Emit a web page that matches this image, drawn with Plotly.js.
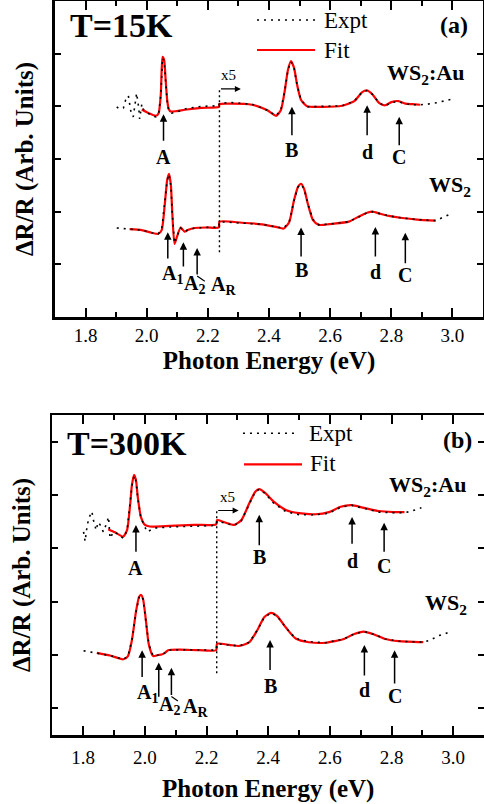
<!DOCTYPE html>
<html>
<head>
<meta charset="utf-8">
<script src="https://cdn.plot.ly/plotly-3.0.1.min.js"></script>
<style>
  html, body { margin: 0; padding: 0; background: #fff; }
  #chart { width: 484px; height: 804px; }
</style>
</head>
<body>
<div id="chart"></div>
<script>
// ---- T = 15 K : WS2:Au (upper spectrum) ----
const eAuFit15 = [1.984,2.007,2.030,2.039,2.046,2.049,2.052,2.057,2.062,2.067,2.072,2.079,2.098,2.131,2.180,2.236,2.238,2.279,2.344,2.393,2.423,2.439,2.452,2.462,2.472,2.482,2.492,2.505,2.525,2.574,2.639,2.679,2.705,2.721,2.738,2.761,2.780,2.800,2.823,2.846,2.869,2.895];
const rAuFit15 = [3.94,3.87,3.82,3.87,4.22,4.69,4.94,4.88,4.50,4.12,3.95,3.90,3.91,3.94,3.97,3.99,4.04,4.05,4.03,3.93,3.82,3.93,4.31,4.69,4.86,4.73,4.41,4.12,4.00,3.99,4.01,4.10,4.27,4.30,4.23,4.06,4.02,4.08,4.10,4.05,4.04,4.03];
const eAuExp15 = [1.902,1.911,1.924,1.931,1.940,1.948,1.956,1.964,1.967,1.974,1.977,1.984,1.990,2.000,2.016,2.030,2.039,2.046,2.049,2.052,2.057,2.062,2.067,2.072,2.082,2.098,2.131,2.180,2.230,2.236,2.238,2.279,2.344,2.393,2.423,2.439,2.452,2.462,2.472,2.482,2.492,2.505,2.525,2.574,2.639,2.679,2.705,2.721,2.738,2.761,2.780,2.800,2.823,2.846,2.869,2.895,2.918,2.951,2.984,3.007];
const rAuExp15 = [3.99,3.95,3.97,4.12,4.20,3.91,3.80,4.12,4.25,3.97,3.76,4.04,3.93,3.89,3.82,3.80,3.85,4.20,4.67,4.92,4.86,4.48,4.10,3.92,3.87,3.89,3.96,4.00,4.01,4.01,4.06,4.07,4.04,3.93,3.82,3.93,4.31,4.69,4.85,4.73,4.40,4.12,3.99,4.00,4.01,4.10,4.27,4.30,4.23,4.06,4.01,4.07,4.09,4.05,4.03,4.03,4.04,4.07,4.12,4.15];

// ---- T = 15 K : WS2 (lower spectrum) ----
const eWsFit15 = [1.944,1.984,2.016,2.038,2.049,2.059,2.067,2.073,2.079,2.084,2.091,2.100,2.111,2.124,2.134,2.157,2.197,2.236,2.238,2.311,2.377,2.423,2.448,2.466,2.482,2.495,2.505,2.515,2.528,2.544,2.563,2.607,2.661,2.698,2.721,2.738,2.764,2.792,2.836,2.885,2.945];
const rWsFit15 = [1.67,1.65,1.60,1.58,1.65,2.13,2.60,2.72,2.51,1.94,1.39,1.54,1.70,1.62,1.65,1.69,1.70,1.70,1.81,1.79,1.76,1.71,1.68,1.80,2.22,2.47,2.53,2.43,2.13,1.84,1.75,1.77,1.81,1.92,1.98,2.00,1.96,1.92,1.88,1.85,1.83];
const eWsExp15 = [1.902,1.918,1.944,1.984,2.016,2.038,2.049,2.059,2.067,2.073,2.079,2.084,2.091,2.100,2.111,2.124,2.134,2.157,2.197,2.236,2.238,2.311,2.377,2.423,2.448,2.466,2.482,2.495,2.505,2.515,2.528,2.544,2.563,2.607,2.661,2.698,2.721,2.738,2.764,2.792,2.836,2.885,2.945,2.967,2.984,3.000];
const rWsExp15 = [1.69,1.68,1.67,1.65,1.60,1.58,1.66,2.12,2.59,2.71,2.50,1.95,1.40,1.55,1.69,1.62,1.65,1.69,1.70,1.71,1.81,1.79,1.76,1.71,1.69,1.80,2.21,2.47,2.52,2.43,2.13,1.85,1.75,1.77,1.81,1.91,1.98,2.00,1.96,1.92,1.88,1.85,1.83,1.88,1.93,1.97];

// ---- T = 300 K : WS2:Au (upper spectrum) ----
const eAuFit300 = [1.881,1.903,1.929,1.942,1.952,1.958,1.965,1.971,1.977,1.987,2.000,2.016,2.081,2.161,2.231,2.234,2.258,2.290,2.313,2.339,2.358,2.371,2.390,2.419,2.457,2.500,2.554,2.597,2.635,2.670,2.710,2.758,2.806,2.842];
const rAuFit300 = [3.86,3.80,3.72,3.84,4.31,4.69,4.88,4.78,4.46,4.09,3.94,3.91,3.92,3.94,3.95,4.03,3.99,3.94,4.03,4.35,4.56,4.61,4.54,4.37,4.22,4.16,4.14,4.18,4.28,4.31,4.26,4.20,4.18,4.18];
const eAuExp300 = [1.801,1.806,1.813,1.820,1.828,1.833,1.842,1.848,1.855,1.865,1.876,1.882,1.887,1.898,1.913,1.929,1.942,1.952,1.958,1.965,1.971,1.977,1.987,2.007,2.032,2.081,2.161,2.231,2.234,2.258,2.290,2.313,2.339,2.358,2.371,2.390,2.419,2.457,2.500,2.554,2.597,2.635,2.670,2.710,2.758,2.806,2.842,2.861,2.881,2.897];
const rAuExp300 = [3.81,3.63,3.94,4.09,4.19,4.03,3.84,3.99,3.94,3.81,3.97,4.09,3.69,3.81,3.77,3.69,3.83,4.29,4.67,4.86,4.76,4.44,4.07,3.81,3.88,3.90,3.92,3.93,4.01,3.97,3.93,4.02,4.33,4.56,4.61,4.53,4.34,4.19,4.13,4.13,4.16,4.27,4.31,4.25,4.18,4.17,4.17,4.19,4.23,4.26];

// ---- T = 300 K : WS2 (lower spectrum) ----
const eWsFit300 = [1.844,1.887,1.930,1.945,1.958,1.971,1.981,1.987,1.994,2.003,2.013,2.027,2.042,2.054,2.065,2.075,2.113,2.177,2.231,2.234,2.274,2.306,2.339,2.365,2.387,2.409,2.429,2.458,2.489,2.532,2.586,2.645,2.677,2.710,2.742,2.780,2.823,2.903];
const rWsFit300 = [1.54,1.49,1.42,1.48,1.78,2.31,2.59,2.63,2.55,2.16,1.69,1.48,1.50,1.51,1.54,1.59,1.60,1.59,1.59,1.71,1.69,1.67,1.74,1.97,2.21,2.29,2.23,2.01,1.81,1.74,1.73,1.80,1.89,1.94,1.89,1.80,1.76,1.74];
const eWsExp300 = [1.801,1.823,1.844,1.887,1.930,1.945,1.958,1.971,1.981,1.987,1.994,2.003,2.013,2.027,2.042,2.054,2.065,2.075,2.113,2.177,2.231,2.234,2.274,2.306,2.339,2.365,2.387,2.409,2.429,2.458,2.489,2.532,2.586,2.645,2.677,2.710,2.742,2.780,2.823,2.903,2.926,2.952,2.974,2.995];
const rWsExp300 = [1.58,1.56,1.54,1.49,1.42,1.48,1.78,2.30,2.58,2.62,2.55,2.16,1.69,1.48,1.50,1.51,1.54,1.59,1.60,1.59,1.59,1.71,1.69,1.67,1.74,1.97,2.20,2.29,2.23,2.01,1.81,1.75,1.73,1.80,1.89,1.94,1.89,1.80,1.76,1.74,1.78,1.86,1.90,1.95];

// Energy where the x5 magnification of the spectra starts
const scaleEdge15 = 2.238;
const scaleEdge300 = 2.233;

const serif = '"Liberation Serif", "Times New Roman", Times, serif';
const RED = '#ff0000';
const BLACK = '#000000';
const DOTS = '2px,5px';

function fitTrace(x, y, xa, ya) {
  return { x, y, xaxis: xa, yaxis: ya, type: 'scatter', mode: 'lines',
    line: { color: RED, width: 2.2, shape: 'spline', smoothing: 0.6 },
    showlegend: false, hoverinfo: 'skip' };
}
function exptTrace(x, y, xa, ya) {
  return { x, y, xaxis: xa, yaxis: ya, type: 'scatter', mode: 'lines',
    line: { color: BLACK, width: 1.6, dash: DOTS },
    showlegend: false, hoverinfo: 'skip' };
}

const traces = [
  fitTrace(eAuFit15, rAuFit15, 'x', 'y'),
  fitTrace(eWsFit15, rWsFit15, 'x', 'y'),
  exptTrace(eAuExp15, rAuExp15, 'x', 'y'),
  exptTrace(eWsExp15, rWsExp15, 'x', 'y'),
  fitTrace(eAuFit300, rAuFit300, 'x2', 'y2'),
  fitTrace(eWsFit300, rWsFit300, 'x2', 'y2'),
  exptTrace(eAuExp300, rAuExp300, 'x2', 'y2'),
  exptTrace(eWsExp300, rWsExp300, 'x2', 'y2')
];

function xAxis(domain, anchor, labelGap, titleGap) {
  return {
    domain, anchor, range: [1.7, 3.1], tick0: 1.8, dtick: 0.2, tickformat: '.1f',
    ticks: 'inside', ticklen: 9, tickwidth: 2, tickcolor: BLACK,
    minor: { dtick: 0.1, ticks: 'inside', ticklen: 5, tickwidth: 2, tickcolor: BLACK, showgrid: false },
    showline: true, linewidth: 2.5, linecolor: BLACK, mirror: 'ticks',
    showgrid: false, zeroline: false, ticklabelstandoff: labelGap,
    tickfont: { family: serif, size: 19, color: BLACK },
    title: { text: 'Photon Energy (eV)', standoff: titleGap,
      font: { family: serif, size: 25, weight: 'bold', color: BLACK } }
  };
}
function yAxis(domain, anchor, tick0) {
  return {
    domain, anchor, range: [0, 6], tick0, dtick: 1, showticklabels: false,
    ticks: 'inside', ticklen: 6, tickwidth: 2, tickcolor: BLACK,
    showline: true, linewidth: 2.5, linecolor: BLACK, mirror: 'ticks',
    showgrid: false, zeroline: false,
    title: { text: 'ΔR/R (Arb. Units)', standoff: 12,
      font: { family: serif, size: 25, weight: 'bold', color: BLACK } }
  };
}

function arrow(xr, yr, x, yTail, yTip) {
  return { xref: xr, yref: yr, axref: xr, ayref: yr, x, y: yTip, ax: x, ay: yTail,
    text: '', showarrow: true, arrowhead: 2, arrowsize: 1, arrowwidth: 1.5,
    arrowcolor: BLACK, standoff: 0, startstandoff: 0 };
}
function hArrow(xr, yr, x0, x1, y) {
  return { xref: xr, yref: yr, axref: xr, ayref: yr, x: x1, y, ax: x0, ay: y,
    text: '', showarrow: true, arrowhead: 2, arrowsize: 1, arrowwidth: 1.2,
    arrowcolor: BLACK, standoff: 0, startstandoff: 0 };
}
function label(xr, yr, x, y, text, size, bold, xanchor) {
  return { xref: xr, yref: yr, x, y, text, showarrow: false,
    xanchor: xanchor || 'center', yanchor: 'middle',
    font: { family: serif, size, color: BLACK, weight: bold ? 'bold' : 'normal' } };
}

const annotations = [
  // panel (a) header
  label('paper', 'paper', 0.1405, 0.9677, 'T=15K', 34, true, 'left'),
  label('paper', 'paper', 0.938, 0.9683, '(a)', 24, true),
  label('paper', 'paper', 0.6653, 0.9745, 'Expt', 23, false, 'left'),
  label('paper', 'paper', 0.6653, 0.9378, 'Fit', 23, false, 'left'),
  // panel (a) arrows
  arrow('x', 'y', 2.055, 3.32, 3.85),
  arrow('x', 'y', 2.475, 3.42, 3.99),
  arrow('x', 'y', 2.721, 3.42, 4.02),
  arrow('x', 'y', 2.826, 3.23, 3.80),
  arrow('x', 'y', 2.069, 1.08, 1.61),
  arrow('x', 'y', 2.120, 0.93, 1.42),
  arrow('x', 'y', 2.165, 0.78, 1.31),
  arrow('x', 'y', 2.505, 1.12, 1.70),
  arrow('x', 'y', 2.748, 1.12, 1.71),
  arrow('x', 'y', 2.846, 0.99, 1.60),
  hArrow('x', 'y', scaleEdge15, 2.308, 4.33),
  // panel (a) labels
  label('x', 'y', 2.055, 3.04, 'A', 20, true),
  label('x', 'y', 2.475, 3.17, 'B', 20, true),
  label('x', 'y', 2.721, 3.14, 'd', 20, true),
  label('x', 'y', 2.826, 3.04, 'C', 20, true),
  label('x', 'y', 2.043, 0.80, 'A<sub>1</sub>', 20, true, 'left'),
  label('x', 'y', 2.115, 0.61, 'A<sub>2</sub>', 20, true, 'left'),
  label('x', 'y', 2.203, 0.59, 'A<sub>R</sub>', 20, true, 'left'),
  label('x', 'y', 2.505, 0.89, 'B', 20, true),
  label('x', 'y', 2.748, 0.86, 'd', 20, true),
  label('x', 'y', 2.846, 0.80, 'C', 20, true),
  label('x', 'y', 2.268, 4.60, 'x5', 15, false),
  label('x', 'y', 2.780, 4.62, 'WS<sub>2</sub>:Au', 22, true, 'left'),
  label('x', 'y', 2.918, 2.49, 'WS<sub>2</sub>', 22, true, 'left'),

  // panel (b) header
  label('paper', 'paper', 0.1343, 0.4484, 'T=300K', 34, true, 'left'),
  label('paper', 'paper', 0.9452, 0.4527, '(b)', 24, true),
  label('paper', 'paper', 0.6343, 0.4614, 'Expt', 23, false, 'left'),
  label('paper', 'paper', 0.6364, 0.4241, 'Fit', 23, false, 'left'),
  // panel (b) arrows
  arrow('x2', 'y2', 1.971, 3.41, 3.94),
  arrow('x2', 'y2', 2.371, 3.53, 4.13),
  arrow('x2', 'y2', 2.672, 3.56, 4.09),
  arrow('x2', 'y2', 2.776, 3.41, 3.98),
  arrow('x2', 'y2', 1.991, 1.06, 1.59),
  arrow('x2', 'y2', 2.045, 0.69, 1.36),
  arrow('x2', 'y2', 2.086, 0.72, 1.26),
  arrow('x2', 'y2', 2.406, 1.19, 1.78),
  arrow('x2', 'y2', 2.712, 1.09, 1.69),
  arrow('x2', 'y2', 2.810, 0.94, 1.59),
  hArrow('x2', 'y2', scaleEdge300, 2.304, 4.21),
  // panel (b) labels
  label('x2', 'y2', 1.971, 3.13, 'A', 20, true),
  label('x2', 'y2', 2.371, 3.33, 'B', 20, true),
  label('x2', 'y2', 2.672, 3.27, 'd', 20, true),
  label('x2', 'y2', 2.776, 3.16, 'C', 20, true),
  label('x2', 'y2', 1.968, 0.77, 'A<sub>1</sub>', 20, true, 'left'),
  label('x2', 'y2', 2.038, 0.55, 'A<sub>2</sub>', 20, true, 'left'),
  label('x2', 'y2', 2.118, 0.52, 'A<sub>R</sub>', 20, true, 'left'),
  label('x2', 'y2', 2.406, 0.91, 'B', 20, true),
  label('x2', 'y2', 2.712, 0.84, 'd', 20, true),
  label('x2', 'y2', 2.810, 0.73, 'C', 20, true),
  label('x2', 'y2', 2.268, 4.47, 'x5', 15, false),
  label('x2', 'y2', 2.784, 4.66, 'WS<sub>2</sub>:Au', 22, true, 'left'),
  label('x2', 'y2', 2.903, 2.46, 'WS<sub>2</sub>', 22, true, 'left')
];

const shapes = [
  // x5 boundaries
  { type: 'line', xref: 'x', yref: 'y', x0: scaleEdge15, x1: scaleEdge15, y0: 1.23, y1: 4.33,
    line: { color: BLACK, width: 1.4, dash: '2px,3px' } },
  { type: 'line', xref: 'x2', yref: 'y2', x0: scaleEdge300, x1: scaleEdge300, y0: 1.16, y1: 4.21,
    line: { color: BLACK, width: 1.4, dash: '2px,3px' } },
  // A_R leader lines
  { type: 'line', xref: 'x', yref: 'y', x0: 2.165, x1: 2.190, y0: 0.78, y1: 0.68,
    line: { color: BLACK, width: 1.2 } },
  { type: 'line', xref: 'x2', yref: 'y2', x0: 2.086, x1: 2.107, y0: 0.72, y1: 0.64,
    line: { color: BLACK, width: 1.2 } },
  // legend samples
  { type: 'line', xref: 'paper', yref: 'paper', x0: 0.531, x1: 0.651, y0: 0.9751, y1: 0.9751,
    line: { color: BLACK, width: 1.6, dash: DOTS } },
  { type: 'line', xref: 'paper', yref: 'paper', x0: 0.531, x1: 0.651, y0: 0.9378, y1: 0.9378,
    line: { color: RED, width: 2.2 } },
  { type: 'line', xref: 'paper', yref: 'paper', x0: 0.502, x1: 0.6136, y0: 0.4611, y1: 0.4611,
    line: { color: BLACK, width: 1.6, dash: DOTS } },
  { type: 'line', xref: 'paper', yref: 'paper', x0: 0.5041, x1: 0.624, y0: 0.4225, y1: 0.4225,
    line: { color: RED, width: 2.2 } }
];

const layout = {
  width: 484, height: 804,
  margin: { l: 0, r: 0, t: 0, b: 0 },
  paper_bgcolor: '#ffffff', plot_bgcolor: '#ffffff',
  showlegend: false,
  font: { family: serif, color: BLACK },
  xaxis: xAxis([0.1136, 0.9979], 'y', 0, 6),
  yaxis: yAxis([0.6057, 0.9988], 'x', 0),
  xaxis2: xAxis([0.1083, 1.0], 'y2', 4, 12),
  yaxis2: yAxis([0.0858, 0.4838], 'x2', 0.5),
  annotations, shapes
};

Plotly.newPlot('chart', traces, layout, { displayModeBar: false, staticPlot: true });
</script>
</body>
</html>
